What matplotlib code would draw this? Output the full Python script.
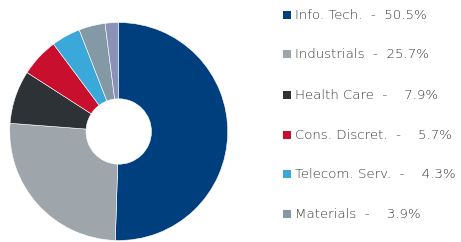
import matplotlib.pyplot as plt
from matplotlib.patches import Rectangle

sectors = ["Info. Tech.", "Industrials", "Health Care", "Cons. Discret.", "Telecom. Serv.", "Materials", "Other"]
weights = [50.5, 25.7, 7.9, 5.7, 4.3, 3.9, 2.0]
colors = ["#003f7d", "#9ea5ab", "#2c3236", "#c8102e", "#3aa8d8", "#8499a6", "#8a92b8"]
legend_count = 6

W, H = 461, 242
fig = plt.figure(figsize=(W / 100, H / 100), dpi=100)
ax = fig.add_axes([0.0211, 0.0062, 0.4729, 0.9008])
ax.pie(weights, colors=colors, startangle=90, counterclock=False, radius=1,
       wedgeprops=dict(width=0.70, edgecolor="white", linewidth=0.4))
ax.set_xlim(-1, 1)
ax.set_ylim(-1, 1)
ax.set_aspect("equal")

row_y = [15, 54, 95, 135, 174, 214]
for i in range(legend_count):
    y = 1 - row_y[i] / H
    fig.patches.append(Rectangle((283 / W, y - 4 / H), 8 / W, 8 / H, transform=fig.transFigure,
                                 facecolor=colors[i], edgecolor="none"))
    if weights[i] < 10:
        label = f"{sectors[i]}  -    {weights[i]:.1f}%"
    else:
        label = f"{sectors[i]}  -  {weights[i]:.1f}%"
    fig.text(295 / W, y, label, color="#383838", fontsize=9.6, va="center", ha="left",
             family="DejaVu Sans", fontweight="light")

fig.savefig("out.png", dpi=100)
